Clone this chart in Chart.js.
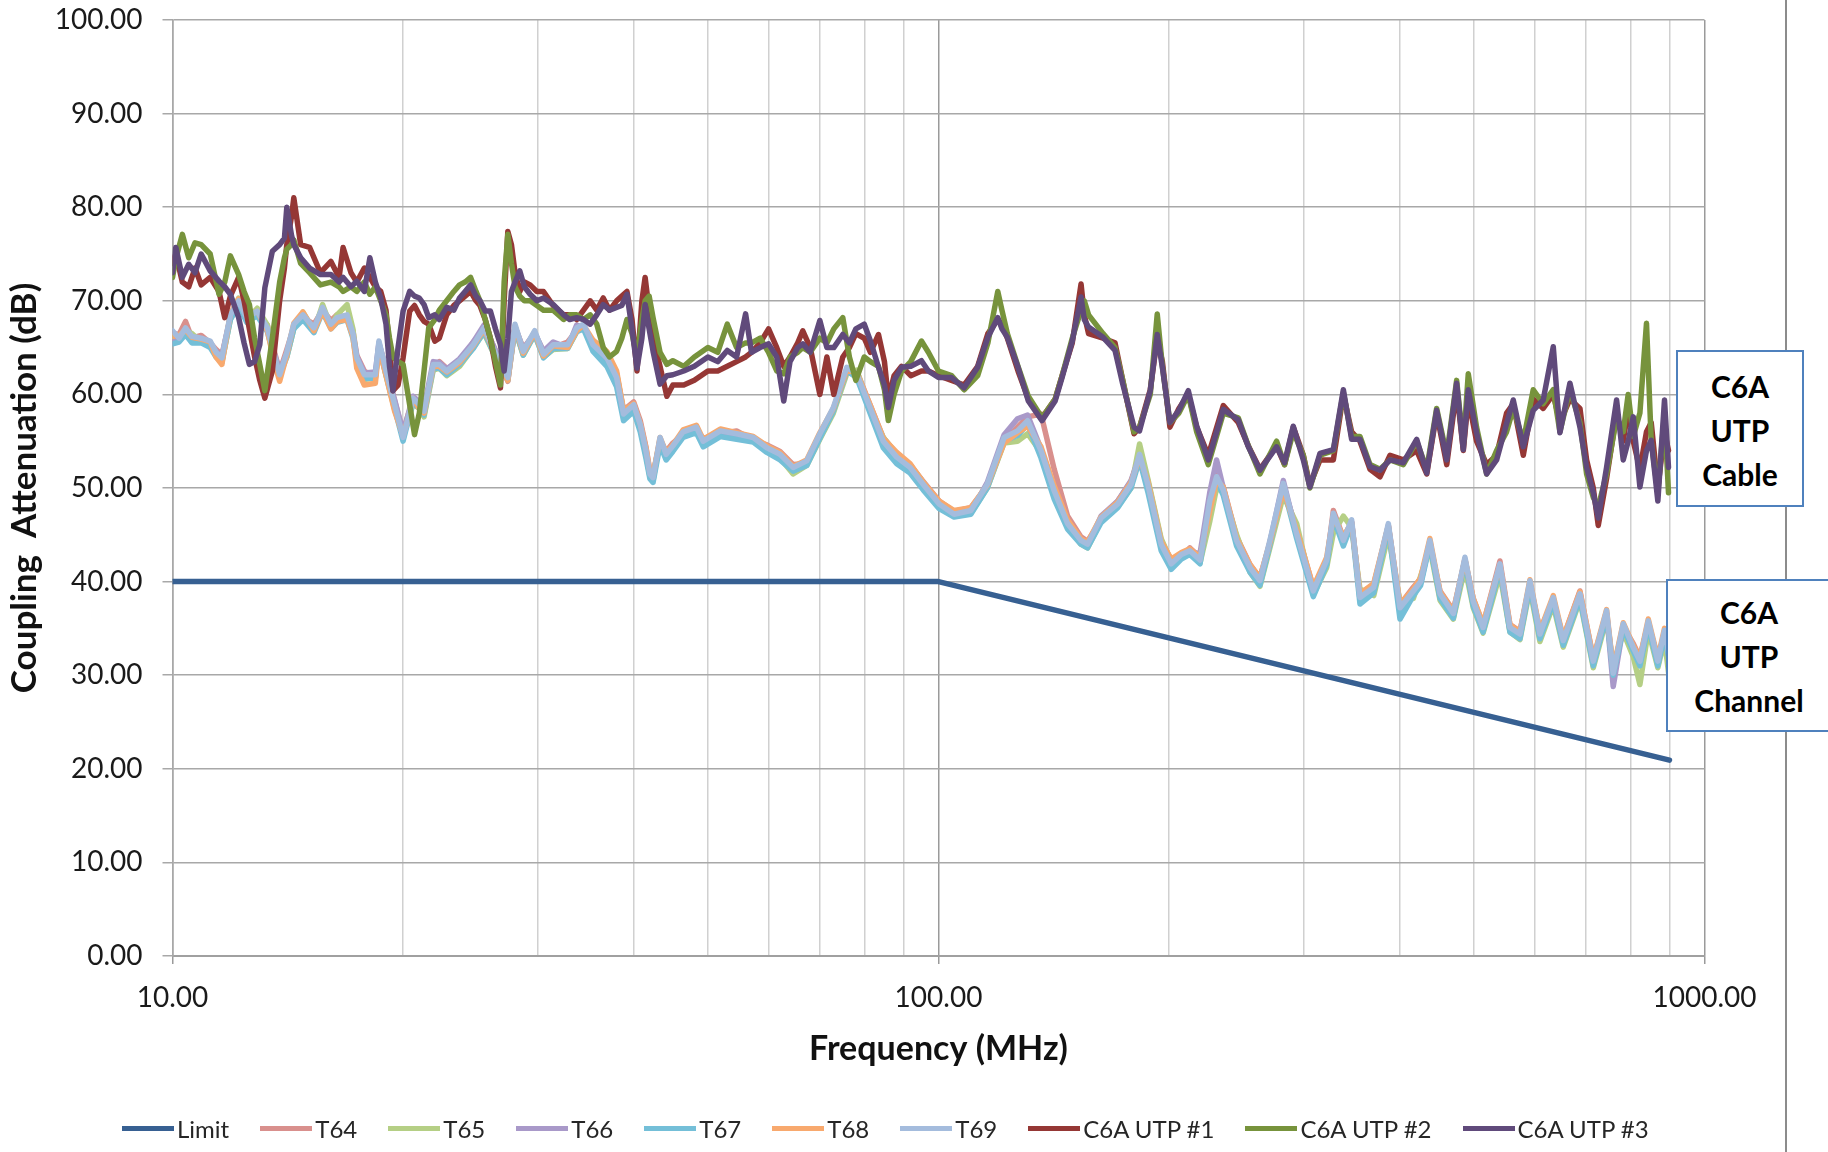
<!DOCTYPE html>
<html><head><meta charset="utf-8">
<script src="https://cdn.jsdelivr.net/npm/chart.js@4.4.1/dist/chart.umd.min.js"></script>
<style>
html,body{margin:0;padding:0;background:#fff;}
#wrap{position:relative;width:1828px;height:1152px;overflow:hidden;background:#fff;}
#c{position:absolute;left:0;top:0;}
#frame{position:absolute;left:1785px;top:0;width:2px;height:1152px;background:#8c8c8c;}
.note{position:absolute;background:#fff;border:2px solid #4F81BD;box-sizing:border-box;font-family:Lato,'Open Sans',sans-serif;font-weight:700;font-size:30px;line-height:44px;color:#000;text-align:center;}
#legend{position:absolute;left:122px;top:1110px;height:36px;display:flex;align-items:center;gap:31px;font-family:Lato,sans-serif;font-size:24px;color:#262626;white-space:nowrap;}
.li{display:flex;align-items:center;}
.sw{display:inline-block;width:52px;height:5px;margin-right:3px;}
</style></head>
<body><div id="wrap">
<canvas id="c" width="1828" height="1152"></canvas>
<div id="frame"></div>
<div class="note" style="left:1676px;top:350px;width:128px;height:157px;padding-top:12px;">C6A<br>UTP<br>Cable</div>
<div class="note" style="left:1666px;top:579px;width:166px;height:153px;padding-top:9px;">C6A<br>UTP<br>Channel</div>
<div id="legend"></div>
</div>
<script>
// ---- tick data ----
const freqGridTicks = [10,20,30,40,50,60,70,80,90,100,200,300,400,500,600,700,800,900,1000];
const freqLabelTicks = [10,100,1000];

// ---- Limit ----
const limitFreq = [10, 100, 900];
const limitVals = [40, 40, 20.92];

// ---- Channel group (T64..T69) ----
const freqChannel = [
10.0,10.2,10.4,10.6,10.9,11.2,11.4,11.6,11.9,12.2,
12.5,12.9,13.3,13.6,13.8,14.1,14.4,14.8,15.3,15.7,
16.1,16.4,16.9,17.2,17.4,17.8,18.4,18.6,19.0,19.5,
20.0,20.3,20.6,21.0,21.3,21.9,22.3,22.8,23.7,24.7,
25.5,26.1,26.8,27.4,28.0,28.7,29.7,30.5,31.4,32.8,
33.7,34.4,35.4,36.9,38.0,38.8,40.0,40.8,41.5,42.0,
42.4,43.3,44.1,45.0,46.4,48.3,49.3,51.9,54.5,57.3,
59.7,62.1,64.6,67.3,70.0,72.9,75.9,78.2,81.4,84.7,
88.2,91.8,95.5,100.2,104.8,110.2,115.8,121.8,126.8,130.7,
136.1,141.6,147.4,153.4,156.5,163.0,171.4,178.4,183.0,187.6,
195.3,201.3,207.5,212.9,219.5,226.1,230.7,235.4,245.0,255.1,
262.8,270.8,281.9,293.5,308.5,321.2,327.7,337.7,346.2,355.0,
370.0,386.6,400.4,416.8,426.0,438.0,451.6,470.0,486.7,499.0,
514.0,540.7,557.2,574.2,591.7,609.7,634.7,654.0,687.7,715.8,
745.0,760.0,783.3,807.0,823.5,844.5,869.2,886.7,900.0];

const t64 = [
66.5,66.4,67.8,66.0,66.3,65.5,64.8,64.2,68.2,69.6,
68.6,68.5,67.4,64.4,62.4,64.8,67.2,68.2,67.5,69.0,
67.9,68.5,68.2,66.8,64.2,62.5,61.8,65.4,62.8,59.3,
55.9,57.8,59.2,59.2,58.5,62.9,63.5,62.8,63.2,65.6,
66.8,65.6,63.5,61.4,67.2,64.9,66.5,64.6,65.0,65.6,
66.8,67.2,65.6,64.2,62.2,58.3,59.2,57.2,54.4,51.8,
51.4,55.1,53.9,54.8,55.7,56.2,55.3,55.8,56.1,55.1,
54.6,53.9,52.5,52.6,55.5,58.3,62.6,62.5,58.9,55.4,
53.6,52.5,50.7,48.6,47.5,47.9,50.2,55.0,56.5,57.6,
57.9,52.0,47.0,44.8,44.3,46.5,48.6,50.7,53.3,50.8,
44.4,42.2,42.6,43.6,42.6,48.4,51.5,50.1,44.8,41.8,
40.4,44.1,50.2,45.5,39.4,42.0,47.6,44.7,46.3,38.7,
39.7,45.9,37.5,39.4,40.3,44.1,39.0,36.9,42.3,38.2,
35.4,42.2,35.4,34.7,39.8,34.8,38.0,34.0,39.0,31.8,
36.6,30.6,35.2,33.4,31.9,35.5,31.8,34.5,32.3];

const t65 = [
66.2,65.8,66.8,66.5,65.6,65.4,64.2,63.5,68.0,70.3,
68.0,69.2,67.4,63.6,62.5,64.0,67.0,68.8,66.8,69.6,
67.2,68.5,69.6,67.0,63.5,61.6,61.8,65.2,62.0,58.4,
55.8,57.0,59.0,58.5,57.6,62.6,62.8,62.0,63.0,65.0,
66.6,64.8,62.8,62.2,67.0,64.2,66.4,64.0,64.8,64.9,
66.7,67.2,65.0,63.5,62.2,58.2,58.4,56.4,53.6,51.2,
51.4,55.0,53.2,54.2,55.6,56.2,54.6,55.8,55.4,55.0,
54.0,53.2,51.5,52.4,55.2,58.0,62.2,62.6,58.4,55.4,
53.6,52.5,50.6,48.0,47.0,47.3,50.0,54.8,55.0,55.8,
53.8,49.4,46.0,44.0,43.6,46.5,48.0,50.0,54.7,51.0,
44.6,42.2,42.6,43.0,42.0,46.5,50.0,49.6,45.0,41.0,
39.5,43.6,49.2,46.2,38.6,41.5,45.2,47.0,45.8,39.2,
38.5,45.0,37.8,38.2,40.6,43.6,38.0,36.0,41.5,37.2,
34.5,40.8,34.6,33.8,39.2,33.6,37.5,33.0,38.0,30.8,
36.0,31.0,34.6,32.0,29.0,34.8,30.8,33.8,29.5];

const t66 = [
65.6,65.9,66.8,65.7,65.8,65.2,64.6,64.0,68.3,69.8,
68.0,68.6,67.0,64.2,62.5,64.3,67.3,68.6,67.0,69.0,
67.3,68.0,68.1,66.4,64.1,62.3,62.4,65.5,62.6,59.4,
56.0,57.8,59.8,59.2,58.6,63.5,63.4,62.7,63.8,65.6,
67.4,65.6,63.5,62.1,67.2,64.8,66.6,64.6,65.6,65.0,
67.4,67.2,65.0,63.6,61.5,57.7,58.6,56.5,53.8,51.3,
50.8,55.2,53.4,54.2,55.8,56.3,54.8,55.9,55.6,55.2,
54.1,53.4,52.0,52.7,55.6,58.4,62.6,62.0,58.4,54.8,
53.1,52.0,50.2,48.1,47.0,47.4,50.6,55.7,57.4,57.8,
54.2,49.5,46.0,44.2,43.8,47.0,48.6,50.8,53.4,50.2,
43.8,41.7,42.7,43.1,43.0,49.6,53.0,50.0,44.2,41.3,
39.9,44.2,50.8,45.0,38.8,42.1,47.0,44.2,46.4,38.1,
39.2,46.0,37.0,38.8,39.8,44.2,38.4,36.3,42.4,37.6,
34.8,41.6,34.8,34.1,39.8,34.1,38.1,33.4,38.4,31.2,
36.6,28.8,35.2,32.7,31.2,35.5,31.2,34.5,31.6];

const t67 = [
65.4,65.6,66.4,65.5,65.5,65.0,64.0,63.4,68.0,69.5,
67.7,68.4,66.7,63.7,62.0,64.0,67.0,68.0,66.6,68.8,
67.0,67.7,68.0,66.0,63.5,61.7,61.7,65.2,62.1,58.5,
55.0,57.1,59.2,58.5,57.8,62.8,62.8,62.1,63.2,64.9,
66.7,64.9,62.8,61.5,67.0,64.2,66.4,63.9,64.9,64.9,
66.7,67.0,64.6,63.0,60.8,57.2,58.2,56.0,53.2,51.0,
50.6,54.6,53.0,53.9,55.4,55.9,54.4,55.5,55.2,54.9,
53.8,53.0,51.8,52.4,55.3,58.2,62.5,61.8,58.0,54.3,
52.6,51.6,49.8,47.8,46.9,47.2,50.0,55.0,55.6,56.8,
53.2,48.8,45.6,44.0,43.6,46.3,47.9,50.0,53.0,49.6,
43.3,41.3,42.4,42.9,41.9,48.2,50.8,49.2,43.8,41.0,
39.6,43.9,50.1,44.6,38.4,41.8,46.8,43.8,46.1,37.6,
38.8,45.7,36.0,38.5,39.6,44.0,38.2,36.1,42.2,37.4,
34.6,41.4,34.6,33.9,39.6,33.9,37.8,33.2,38.2,31.0,
36.4,30.0,35.0,32.6,31.0,35.3,31.0,34.3,31.5];

const t68 = [
66.2,66.3,66.9,66.1,65.9,65.6,64.0,63.2,68.6,70.2,
68.3,68.9,66.8,63.2,61.4,64.2,67.6,68.8,66.8,68.9,
67.0,67.8,68.0,66.2,62.8,61.0,61.2,65.0,62.0,58.2,
55.6,57.4,59.6,58.5,58.0,63.0,63.0,62.4,63.4,65.2,
66.9,65.2,63.0,61.5,67.3,64.4,66.6,64.1,65.2,65.0,
66.8,67.4,65.8,64.6,62.5,58.3,59.0,56.9,54.3,51.7,
51.3,55.4,53.8,54.6,56.2,56.7,55.2,56.3,55.9,55.5,
54.5,53.8,52.3,53.0,55.9,58.5,62.6,62.3,58.9,55.3,
53.8,52.6,50.6,48.6,47.6,47.9,50.3,54.8,55.9,56.6,
54.4,50.2,46.6,44.6,44.2,46.9,48.5,50.6,53.3,50.7,
44.3,42.4,43.1,43.5,42.6,47.6,50.8,50.1,44.6,41.8,
40.4,44.2,49.8,45.5,39.4,42.6,47.0,44.8,46.3,38.7,
39.8,46.0,37.6,39.2,40.4,44.6,38.9,36.8,42.4,38.2,
35.5,41.8,35.4,34.6,40.2,34.7,38.5,34.0,38.9,31.8,
37.0,30.6,35.6,33.2,31.8,36.0,31.8,35.0,32.2];

const t69 = [
66.8,66.0,67.1,66.2,66.0,65.7,64.5,63.9,68.5,70.0,
68.2,68.9,67.1,64.0,62.1,64.5,67.5,68.5,67.1,69.3,
67.5,68.2,68.5,66.5,63.9,62.1,62.1,65.7,62.5,58.9,
55.4,57.5,59.6,58.9,58.2,63.2,63.2,62.5,63.6,65.3,
67.1,65.3,63.2,61.8,67.5,64.6,66.8,64.3,65.3,65.3,
67.1,67.5,65.3,63.9,61.8,57.9,58.9,56.8,54.0,51.5,
51.1,55.4,53.6,54.5,56.0,56.5,55.0,56.1,55.8,55.4,
54.3,53.6,52.2,52.9,55.8,58.6,62.9,62.2,58.6,55.0,
53.3,52.2,50.4,48.3,47.2,47.6,50.4,55.4,56.1,57.2,
54.0,49.7,46.2,44.4,44.0,46.8,48.3,50.4,53.6,50.4,
44.0,41.9,42.9,43.3,42.3,48.7,51.2,49.8,44.4,41.5,
40.1,44.4,50.5,45.1,39.0,42.3,47.3,44.4,46.6,38.3,
39.4,46.2,37.2,39.0,40.0,44.4,38.7,36.6,42.6,37.9,
35.1,41.9,35.1,34.4,40.1,34.4,38.3,33.7,38.7,31.5,
36.9,30.2,35.5,33.0,31.5,35.8,31.5,34.8,32.0];

// ---- Cable group (C6A UTP #1..#3) ----
const freqCable = [
10.0,10.1,10.3,10.5,10.7,10.9,11.2,11.5,11.7,11.9,
12.2,12.4,12.6,12.8,13.0,13.2,13.5,13.8,14.0,14.1,
14.3,14.4,14.7,15.1,15.6,16.1,16.5,16.7,17.1,17.4,
17.8,18.1,18.4,18.7,19.0,19.2,19.4,19.7,20.0,20.4,
20.7,21.0,21.3,21.6,22.0,22.3,22.8,23.3,23.7,24.1,
24.5,24.9,25.2,25.6,26.0,26.4,26.8,27.1,27.4,27.7,
28.0,28.4,28.8,29.3,29.9,30.5,31.4,32.4,33.0,33.7,
34.4,35.1,35.8,36.5,37.2,38.0,38.6,39.2,39.8,40.4,
41.0,41.4,41.9,42.4,43.3,44.2,45.0,46.5,48.0,50.0,
51.5,53.0,54.5,56.0,57.0,58.5,60.0,61.5,62.8,64.0,
65.5,66.5,68.0,70.0,71.5,73.0,75.0,76.5,78.0,80.0,
81.5,83.5,85.0,86.0,87.5,89.5,92.0,95.0,97.0,100,
104,108,112.5,116,119.5,121,123,127,131,136.5,
142,145,149.5,153.5,155,157,164,170,174,180,
183,189,193,196,200.5,206,211.9,217.3,225,235.4,
246.2,253.8,262.8,276.3,283,290.5,299.4,305.4,314.8,327.7,
337.7,346.2,355,365.9,377,388.6,404.4,421,433.9,447,
460.8,474.7,484.3,491.6,504,519.5,535.3,551.6,562.8,580,
597.6,615.8,634.7,647.5,667.3,687.7,701.6,715.8,726.6,745,
767.8,783.3,795,807.2,823.5,840,852,869.2,886.7,897.4];

const c6a1 = [
74.0,75.0,72.0,71.5,73.5,71.7,72.5,71.0,68.2,70.5,
72.5,70.0,67.0,64.0,61.5,59.6,62.5,70.0,73.5,76.0,
79.0,81.0,76.0,75.7,73.0,74.2,72.5,75.7,73.0,72.0,
73.5,72.5,71.5,71.0,69.0,65.0,60.4,61.0,63.9,68.9,
69.5,68.5,67.8,67.5,65.7,66.0,68.5,69.5,70.0,70.5,
71.0,70.0,69.5,68.0,66.0,63.0,60.7,70.0,77.4,76.0,
73.0,71.0,72.0,71.7,71.0,71.0,69.5,68.5,68.5,68.0,
69.0,70.0,69.0,70.3,69.0,70.0,70.5,71.0,68.0,62.5,
70.0,72.5,69.0,66.0,63.0,59.8,61.0,61.0,61.5,62.5,
62.5,63.0,63.5,64.0,64.5,65.5,67.0,65.0,63.0,64.0,
65.5,66.8,65.0,60.0,64.0,60.0,64.0,65.0,66.5,66.0,
64.5,66.4,63.5,59.5,62.0,63.0,62.0,62.5,62.5,62.0,
61.5,61.0,63.0,66.5,68.0,67.5,66.0,62.5,59.5,57.5,
59.5,62.0,65.5,71.8,68.5,66.5,66.0,65.5,61.5,55.8,
56.5,60.5,66.0,63.5,56.5,58.5,60.0,56.5,53.5,58.8,
57.0,54.5,52.0,54.5,52.5,56.5,53.5,50.3,53.0,53.0,
60.0,56.0,55.0,52.0,51.2,53.5,53.0,54.0,51.5,58.0,
52.5,60.5,54.0,59.5,55.0,52.5,53.5,58.0,59.0,53.5,
59.5,58.5,60.0,57.0,59.5,58.5,53.0,50.0,46.0,51.0,
58.0,55.0,58.5,55.0,52.0,56.0,57.0,50.0,56.0,54.0];

const c6a2 = [
72.5,74.5,77.1,74.6,76.2,76.0,75.0,70.7,72.0,74.8,
72.8,71.0,69.6,66.0,63.2,60.4,66.0,72.0,74.6,75.5,
76.0,76.5,74.0,73.0,71.7,72.0,71.5,71.0,71.5,71.0,
72.0,70.7,71.5,70.0,68.5,66.0,64.0,63.5,63.2,58.9,
55.7,58.0,62.5,67.1,68.0,69.0,70.0,71.0,71.7,72.0,
72.5,71.0,70.0,68.0,66.0,63.5,61.0,72.0,77.1,74.0,
71.5,70.5,70.0,70.0,69.5,69.0,69.0,68.0,68.5,68.5,
68.0,68.5,67.5,65.0,64.0,64.6,66.0,68.0,66.5,64.0,
68.0,70.0,70.5,68.2,64.5,63.2,63.6,63.0,64.0,65.0,
64.5,67.5,65.0,65.5,65.5,66.0,64.5,62.5,62.2,64.0,
64.5,65.0,64.5,66.0,65.5,67.0,68.2,64.0,61.5,64.0,
63.5,63.0,60.5,57.2,60.0,62.5,63.5,65.7,64.5,62.5,
62.0,60.5,62.0,65.5,71.0,69.0,66.5,63.0,59.8,57.5,
59.5,62.0,66.0,69.0,70.0,68.5,66.5,65.0,61.5,56.0,
56.5,60.0,68.6,63.0,57.0,58.0,60.0,56.0,52.5,58.0,
57.5,54.5,51.5,55.0,52.5,56.0,53.5,50.0,53.5,54.0,
60.2,55.5,55.5,52.5,52.0,53.0,52.5,55.0,52.0,58.5,
53.5,61.5,54.5,62.2,56.5,51.5,54.0,56.0,58.5,55.0,
60.5,59.0,60.5,56.0,60.5,57.0,51.5,49.0,48.0,51.5,
57.5,56.0,60.0,55.5,58.0,67.6,55.0,49.5,58.0,49.5];

const c6a3 = [
73.0,75.7,72.5,73.9,73.0,75.0,73.2,72.1,71.5,70.7,
68.2,65.5,63.2,63.5,65.3,71.4,75.3,76.0,76.7,80.0,
77.0,76.0,74.6,73.5,72.8,72.8,72.0,72.5,71.5,72.1,
71.0,74.6,72.0,70.3,67.5,63.0,60.4,65.0,68.9,71.0,
70.5,70.3,69.6,68.2,68.5,68.0,69.3,69.0,70.3,71.0,
71.7,70.5,70.0,68.9,68.9,67.0,65.3,62.5,66.0,71.0,
72.0,73.2,71.5,70.7,70.0,70.3,69.6,68.5,68.0,68.2,
68.0,67.5,68.5,69.6,69.0,69.3,69.5,70.7,67.0,62.8,
66.0,69.6,67.0,64.6,61.1,62.0,62.1,62.5,63.0,64.0,
63.5,64.7,64.0,68.6,64.5,65.0,65.4,64.0,59.3,63.5,
65.0,65.4,64.5,67.9,65.0,65.0,66.4,65.5,67.0,67.5,
65.7,62.9,61.0,58.6,61.5,62.9,63.0,63.6,62.5,61.8,
61.8,60.7,62.9,66.1,68.2,67.0,66.1,62.9,59.3,57.2,
59.3,61.8,65.7,70.4,68.0,67.2,66.1,64.7,61.1,56.5,
56.1,60.4,66.4,62.9,57.0,58.3,60.4,56.6,53.0,58.4,
57.3,54.4,51.9,54.4,52.7,56.6,53.0,50.1,53.7,54.1,
60.5,55.2,55.2,52.3,51.9,53.0,52.7,55.2,51.6,58.3,
53.0,61.2,54.1,60.5,55.9,51.5,53.0,56.9,59.4,54.4,
58.3,59.4,65.1,55.9,61.2,56.5,52.2,49.5,46.8,52.2,
59.4,53.0,55.0,57.6,50.1,54.0,55.1,48.6,59.4,52.2];

// ---- series labels & colours ----
const seriesLabels = ['Limit','T64','T65','T66','T67','T68','T69','C6A UTP #1','C6A UTP #2','C6A UTP #3'];
const seriesColors = ['#376092','#D9908D','#B5CF85','#A999C9','#74BFD8','#F8A96E','#A4BCDD','#953735','#77933C','#604A7B'];

const seriesData = [
  [limitFreq, limitVals],
  [freqChannel, t64],[freqChannel, t65],[freqChannel, t66],[freqChannel, t67],[freqChannel, t68],[freqChannel, t69],
  [freqCable, c6a1],[freqCable, c6a2],[freqCable, c6a3]
];

const datasets = seriesData.map(([xs, ys], i) => ({
  label: seriesLabels[i],
  data: xs.map((x, k) => ({x: x, y: ys[k]})),
  borderColor: seriesColors[i],
  backgroundColor: seriesColors[i],
  borderWidth: 5.5,
  pointRadius: 0,
  pointHoverRadius: 0,
  tension: 0,
  borderJoinStyle: 'round',
  borderCapStyle: 'round',
  order: seriesLabels.length - i
}));

Chart.defaults.font.family = 'Lato, "Open Sans", sans-serif';

const chart = new Chart(document.getElementById('c'), {
  type: 'line',
  data: { datasets },
  options: {
    responsive: false,
    animation: false,
    devicePixelRatio: 1,
    layout: { padding: { left: 0, right: 123.5, top: 20, bottom: 83 } },
    plugins: { legend: { display: false }, tooltip: { enabled: false } },
    scales: {
      x: {
        type: 'logarithmic', min: 10, max: 1000,
        afterBuildTicks: s => { s.ticks = freqGridTicks.map(v => ({ value: v, major: freqLabelTicks.includes(v) })); },
        afterFit: s => { s.height = 113; },
        ticks: {
          autoSkip: false, maxRotation: 0, minRotation: 0, padding: 17, color: '#1a1a1a',
          font: { size: 28 },
          callback: v => freqLabelTicks.includes(v) ? Number(v).toFixed(2) : ''
        },
        grid: {
          color: c => (c.tick && freqLabelTicks.includes(c.tick.value)) ? '#9a9a9a' : '#d0d0d0',
          lineWidth: 1.5, tickLength: 8,
          tickColor: c => (c.tick && freqLabelTicks.includes(c.tick.value)) ? '#9a9a9a' : 'rgba(0,0,0,0)'
        },
        border: { color: '#a0a0a0', width: 2 },
        title: { display: true, text: 'Frequency (MHz)', color: '#111', font: { size: 34, weight: 'bold' }, padding: { top: 0, bottom: 0 } }
      },
      y: {
        min: 0, max: 100,
        afterFit: s => { s.width = 172.5; s.paddingTop = 0; s.paddingBottom = 0; },
        ticks: { stepSize: 10, padding: 20, color: '#1a1a1a', font: { size: 28 }, callback: v => Number(v).toFixed(2) },
        grid: { color: '#a8a8a8', lineWidth: 1.5, tickLength: 10 },
        border: { color: '#a8a8a8', width: 1.5 },
        title: { display: true, text: 'Coupling  Attenuation (dB)', color: '#111', font: { size: 35, weight: 'bold' }, padding: { top: 4, bottom: 0 } }
      }
    }
  }
});

// HTML legend built from the chart's datasets
const leg = document.getElementById('legend');
chart.data.datasets.forEach(d => {
  const item = document.createElement('div'); item.className = 'li';
  const sw = document.createElement('span'); sw.className = 'sw'; sw.style.background = d.borderColor;
  item.appendChild(sw); item.appendChild(document.createTextNode(d.label));
  leg.appendChild(item);
});
</script>
</body></html>
